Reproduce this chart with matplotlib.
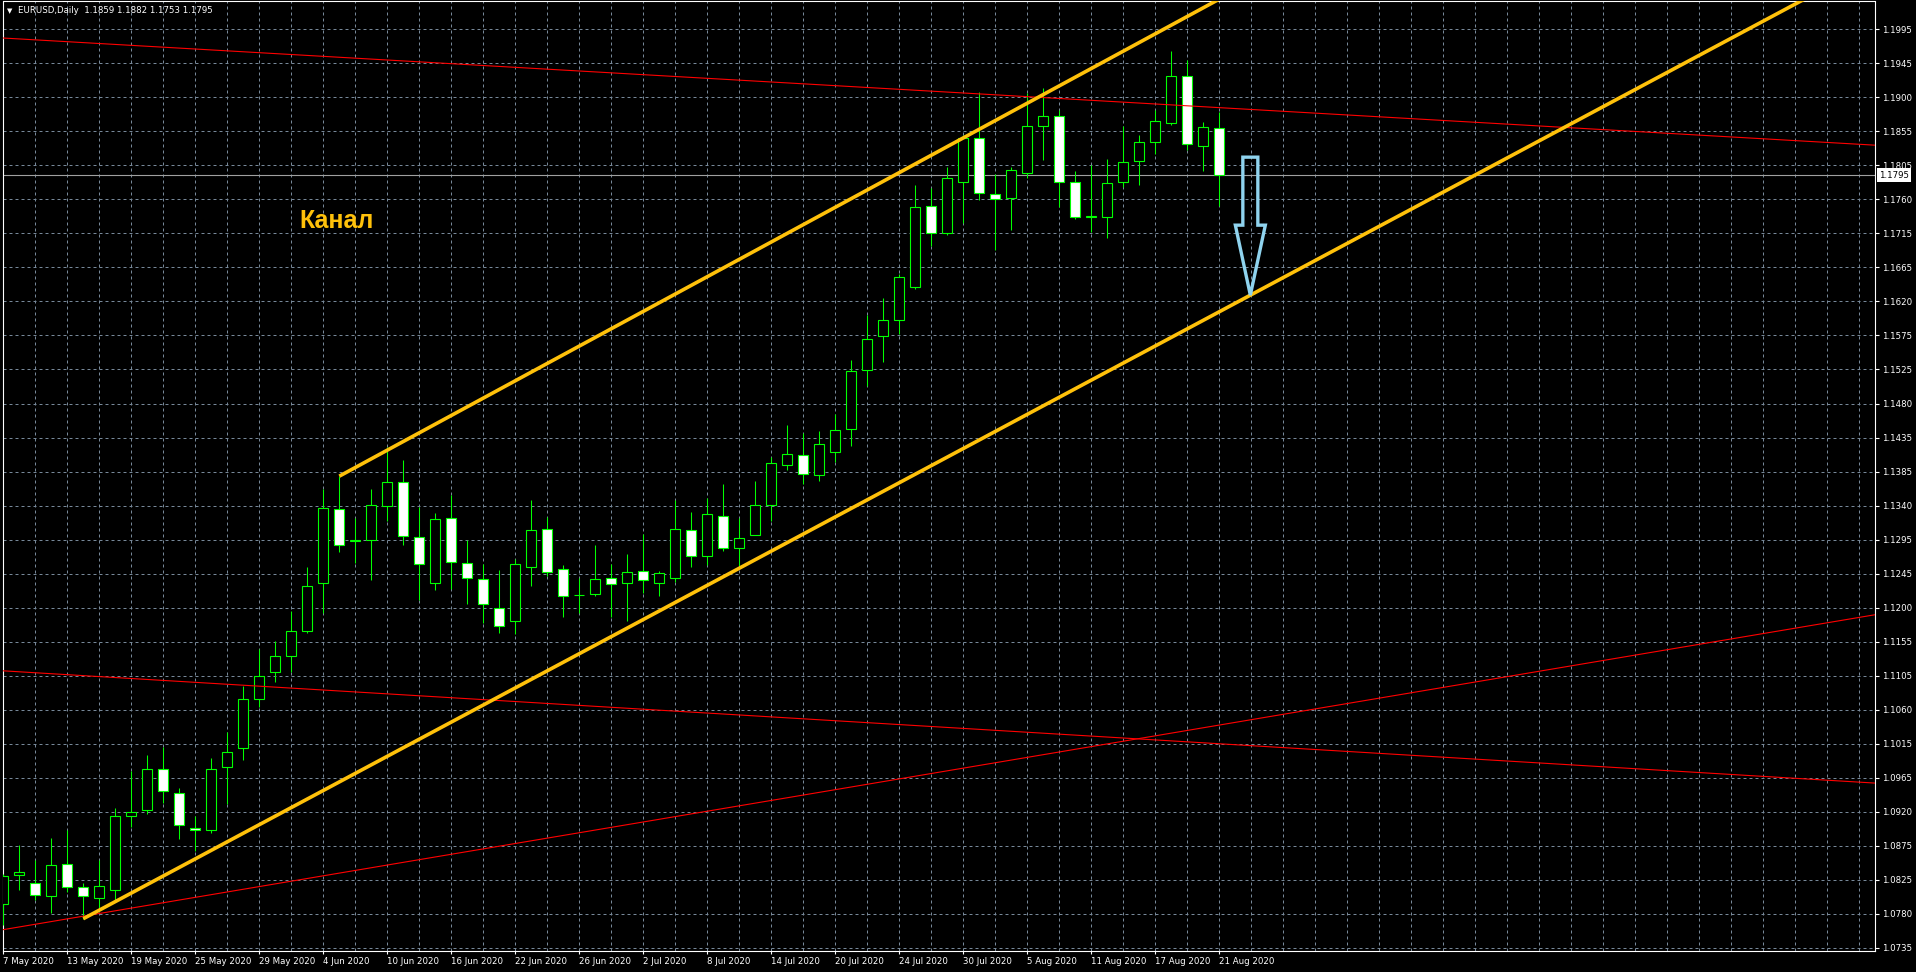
import numpy as np
import pandas as pd
import matplotlib
matplotlib.use('Agg')
import matplotlib.pyplot as plt
from matplotlib.patches import Polygon
from matplotlib.transforms import ScaledTranslation, blended_transform_factory

#%%
#=====================================================================
#Data (EURUSD daily, 7 May - 21 Aug 2020)
#=====================================================================

#one bar per weekday
dates = pd.bdate_range('2020-05-07', '2020-08-21')

opens = [1.0795, 1.0835, 1.0824, 1.0806, 1.0850, 1.0818, 1.0804, 1.0814, 1.0916, 1.0924,
         1.0981, 1.0948, 1.0900, 1.0896, 1.0983, 1.1009, 1.1077, 1.1113, 1.1135, 1.1169,
         1.1235, 1.1337, 1.1293, 1.1294, 1.1341, 1.1374, 1.1298, 1.1236, 1.1324, 1.1263,
         1.1241, 1.1201, 1.1183, 1.1258, 1.1309, 1.1254, 1.1219, 1.1221, 1.1242, 1.1235,
         1.1252, 1.1235, 1.1243, 1.1308, 1.1273, 1.1328, 1.1283, 1.1302, 1.1343, 1.1398,
         1.1411, 1.1383, 1.1415, 1.1447, 1.1527, 1.1574, 1.1596, 1.1642, 1.1752, 1.1716,
         1.1786, 1.1846, 1.1769, 1.1763, 1.1798, 1.1863, 1.1876, 1.1786, 1.1738, 1.1738,
         1.1786, 1.1814, 1.1840, 1.1867, 1.1931, 1.1835, 1.1859]
highs = [1.0836, 1.0876, 1.0855, 1.0886, 1.0897, 1.0824, 1.0855, 1.0927, 1.0978, 1.1000,
         1.1011, 1.0954, 1.0916, 1.0996, 1.1031, 1.1094, 1.1145, 1.1156, 1.1197, 1.1257,
         1.1365, 1.1382, 1.1324, 1.1364, 1.1422, 1.1404, 1.1340, 1.1331, 1.1356, 1.1294,
         1.1262, 1.1253, 1.1269, 1.1349, 1.1326, 1.1260, 1.1242, 1.1287, 1.1262, 1.1275,
         1.1303, 1.1252, 1.1349, 1.1333, 1.1352, 1.1371, 1.1324, 1.1375, 1.1408, 1.1452,
         1.1441, 1.1444, 1.1467, 1.1541, 1.1603, 1.1626, 1.1660, 1.1781, 1.1777, 1.1806,
         1.1850, 1.1909, 1.1797, 1.1806, 1.1908, 1.1915, 1.1884, 1.1801, 1.1809, 1.1817,
         1.1863, 1.1850, 1.1884, 1.1965, 1.1953, 1.1868, 1.1882]
lows = [1.0766, 1.0814, 1.0800, 1.0783, 1.0811, 1.0775, 1.0789, 1.0801, 1.0901, 1.0918,
        1.0934, 1.0885, 1.0868, 1.0892, 1.0933, 1.0993, 1.1066, 1.1099, 1.1114, 1.1167,
        1.1195, 1.1278, 1.1263, 1.1240, 1.1320, 1.1288, 1.1212, 1.1226, 1.1227, 1.1206,
        1.1181, 1.1167, 1.1165, 1.1232, 1.1245, 1.1189, 1.1195, 1.1217, 1.1189, 1.1184,
        1.1222, 1.1218, 1.1237, 1.1258, 1.1260, 1.1279, 1.1259, 1.1301, 1.1321, 1.1390,
        1.1371, 1.1376, 1.1401, 1.1423, 1.1506, 1.1539, 1.1577, 1.1639, 1.1698, 1.1713,
        1.1729, 1.1761, 1.1692, 1.1720, 1.1791, 1.1816, 1.1751, 1.1735, 1.1717, 1.1709,
        1.1779, 1.1781, 1.1824, 1.1864, 1.1829, 1.1801, 1.1753]
closes = [1.0834, 1.0839, 1.0807, 1.0848, 1.0818, 1.0806, 1.0820, 1.0916, 1.0922, 1.0980,
          1.0950, 1.0903, 1.0896, 1.0981, 1.1003, 1.1077, 1.1108, 1.1136, 1.1169, 1.1232,
          1.1338, 1.1287, 1.1294, 1.1342, 1.1374, 1.1300, 1.1261, 1.1323, 1.1264, 1.1243,
          1.1206, 1.1177, 1.1261, 1.1308, 1.1250, 1.1217, 1.1219, 1.1241, 1.1234, 1.1250,
          1.1239, 1.1249, 1.1309, 1.1272, 1.1330, 1.1284, 1.1297, 1.1342, 1.1400, 1.1412,
          1.1385, 1.1426, 1.1446, 1.1526, 1.1570, 1.1596, 1.1655, 1.1751, 1.1715, 1.1791,
          1.1846, 1.1771, 1.1762, 1.1802, 1.1862, 1.1876, 1.1785, 1.1737, 1.1739, 1.1784,
          1.1813, 1.1841, 1.1869, 1.1931, 1.1837, 1.1861, 1.1795]

#price scale labels, bottom to top
price_labels = ['1.0735', '1.0780', '1.0825', '1.0875', '1.0920', '1.0965', '1.1015',
                '1.1060', '1.1105', '1.1155', '1.1200', '1.1245', '1.1295', '1.1340',
                '1.1385', '1.1435', '1.1480', '1.1525', '1.1575', '1.1620', '1.1665',
                '1.1715', '1.1760', '1.1805', '1.1855', '1.1900', '1.1945', '1.1995']

time_labels = ['7 May 2020', '13 May 2020', '19 May 2020', '25 May 2020', '29 May 2020',
               '4 Jun 2020', '10 Jun 2020', '16 Jun 2020', '22 Jun 2020', '26 Jun 2020',
               '2 Jul 2020', '8 Jul 2020', '14 Jul 2020', '20 Jul 2020', '24 Jul 2020',
               '30 Jul 2020', '5 Aug 2020', '11 Aug 2020', '17 Aug 2020', '21 Aug 2020']

header = 'EURUSD,Daily  1.1859 1.1882 1.1753 1.1795'
bid = 1.1795

#drawn objects as (bar, price) anchors
upper_chan = [(21, 1.1382), (70, 1.1965)]
lower_chan = [(5, 1.0775), (78, 1.1631)]
red_lines = [[(0, 1.1983), (117, 1.1836)],
             [(0, 1.1115), (117, 1.0961)],
             [(0, 1.0760), (117, 1.1192)]]
arrow_bar = 77.94

#%%
#=====================================================================
#Figure setup (MT4 green on black look)
#=====================================================================

W, H = 1916, 972
GREEN = '#00FF00'
GRID = '#778899'
GOLD = '#FFC10A'

fig = plt.figure(figsize=(W / 100, H / 100), dpi=100, facecolor='black')
ax = fig.add_axes([2.9 / W, 21 / H, (1875.3 - 2.9) / W, (951 - 1.5) / H], facecolor='black')

ax.set_xlim(-0.025, 117.0)
ax.set_ylim(1.07307, 1.20331)

for s in ax.spines.values():
    s.set_color('white')
    s.set_linewidth(0.8)

#grid: every price label and every 2nd bar
yticks = np.linspace(1.0735, 1.1995, len(price_labels))
for yv in yticks:
    ax.axhline(yv, color=GRID, lw=0.72, ls=(0, (3, 3)), zorder=1)
for xv in range(0, 117, 2):
    ax.axvline(xv, color=GRID, lw=0.72, ls=(0, (3, 3)), zorder=1)

#price axis on the right
ax.yaxis.tick_right()
ax.set_yticks(yticks)
ax.set_yticklabels(price_labels)
ax.tick_params(axis='y', direction='out', length=3, width=0.8, color='white',
               labelcolor='white', labelsize=6.2, pad=1.5)

#time axis
day_labels = [f'{d.day} {d.strftime("%b")} {d.year}' for d in dates]
xticks = [day_labels.index(t) for t in time_labels]
ax.set_xticks(xticks)
ax.set_xticklabels(time_labels)
ax.tick_params(axis='x', direction='out', length=2.5, width=0.8, color='white',
               labelcolor='white', labelsize=6.2, pad=1.5)
for lbl in ax.get_xticklabels():
    lbl.set_horizontalalignment('left')

#%%
#=====================================================================
#Candles
#=====================================================================

x = np.arange(len(dates))
o = np.array(opens)
h = np.array(highs)
l = np.array(lows)
c = np.array(closes)
up = c >= o

ax.vlines(x, l, h, color=GREEN, lw=0.75, zorder=3)
body_lo = np.minimum(o, c)
body_h = np.maximum(np.abs(c - o), 0.00002)
ax.bar(x, body_h, bottom=body_lo, width=0.6, color=np.where(up, 'black', 'white'),
       edgecolor=GREEN, linewidth=0.8, zorder=4)

#bid line
ax.axhline(bid, color='#A0A0A0', lw=0.8, zorder=2)

#%%
#=====================================================================
#Trend lines, channel, arrow and labels
#=====================================================================

def line_through(pts, x_from, x_to):
    (x0, y0), (x1, y1) = pts
    k = (y1 - y0) / (x1 - x0)
    return [x_from, x_to], [y0 + k * (x_from - x0), y0 + k * (x_to - x0)]

for pts in red_lines:
    xs, ys = line_through(pts, -1, 118)
    ax.plot(xs, ys, color='red', lw=0.8, zorder=5)

for pts in [upper_chan, lower_chan]:
    xs, ys = line_through(pts, pts[0][0], 130)
    ax.plot(xs, ys, color=GOLD, lw=2.6, solid_capstyle='butt', zorder=6)

#hollow arrow pointing at the lower channel line (shape in pixels)
xs, ys = line_through(lower_chan, arrow_bar, arrow_bar)
shape_px = [(-7.5, 138), (7.5, 138), (7.5, 70), (15, 70), (0, 0), (-15, 70), (-7.5, 70)]
trans = fig.dpi_scale_trans + ScaledTranslation(arrow_bar, ys[0], ax.transData)
arrow = Polygon([(dx / 100, dy / 100) for dx, dy in shape_px], closed=True,
                facecolor='none', edgecolor='#8FD3EE', lw=2.4, joinstyle='miter',
                transform=trans, zorder=7)
ax.add_patch(arrow)

ax.text(20.8, 1.1732, 'Канал', color=GOLD, fontsize=18, fontweight='bold',
        family='Liberation Sans', ha='center', va='center', zorder=7)

#current price box on the scale
bt = blended_transform_factory(ax.transAxes, ax.transData)
ax.text(1.0021, bid, f'{bid:.4f}', transform=bt, color='black', fontsize=6.2,
        ha='left', va='center', clip_on=False, zorder=8,
        bbox=dict(boxstyle='square,pad=0.25', fc='white', ec='none'))

#header
fig.text(9.3 / W, 1 - 10.7 / H, '▼', color='white', fontsize=5, ha='center', va='center')
fig.text(18.5 / W, 1 - 10.7 / H, header, color='white', fontsize=6.2, ha='left', va='center')

plt.savefig('out.png', dpi=100, facecolor='black')
